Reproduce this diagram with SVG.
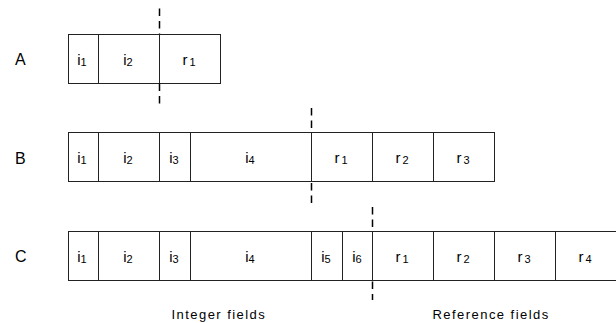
<svg xmlns="http://www.w3.org/2000/svg" width="616" height="323" viewBox="0 0 616 323">
<style>
.cell{fill:#fff;stroke:#222;stroke-width:1}
.t{font-family:"Liberation Sans",Arial,sans-serif;font-size:15px;fill:#000;text-anchor:middle}
.s{font-size:11px}
.lab{font-family:"Liberation Sans",Arial,sans-serif;font-size:16px;fill:#000}
.cap{font-family:"Liberation Sans",Arial,sans-serif;font-size:13px;fill:#000;letter-spacing:1.45px}
.sep{stroke:#000;stroke-width:1.5;stroke-dasharray:7.5 5;fill:none}
</style>
<rect width="616" height="323" fill="#fff"/>

<g id="rowA">
<text class="lab" x="15" y="64.5">A</text>
<g id="A-i1"><rect class="cell" x="68.5" y="34.5" width="30" height="49"/><text class="t" x="82" y="64.5">i<tspan class="s" dy="1">1</tspan></text></g>
<g id="A-i2"><rect class="cell" x="98.5" y="34.5" width="61" height="49"/><text class="t" x="128" y="64.5">i<tspan class="s" dy="1">2</tspan></text></g>
<g id="A-r1"><rect class="cell" x="159.5" y="34.5" width="61" height="49"/><text class="t" x="189" y="64.5">r<tspan class="s" dx="2" dy="1">1</tspan></text></g>
</g>

<g id="rowB">
<text class="lab" x="15" y="163.5">B</text>
<g id="B-i1"><rect class="cell" x="68.5" y="132.5" width="30" height="49"/><text class="t" x="82" y="163">i<tspan class="s" dy="1">1</tspan></text></g>
<g id="B-i2"><rect class="cell" x="98.5" y="132.5" width="61" height="49"/><text class="t" x="128" y="163">i<tspan class="s" dy="1">2</tspan></text></g>
<g id="B-i3"><rect class="cell" x="159.5" y="132.5" width="31" height="49"/><text class="t" x="174" y="163">i<tspan class="s" dy="1">3</tspan></text></g>
<g id="B-i4"><rect class="cell" x="190.5" y="132.5" width="121" height="49"/><text class="t" x="250" y="163">i<tspan class="s" dy="1">4</tspan></text></g>
<g id="B-r1"><rect class="cell" x="311.5" y="132.5" width="61" height="49"/><text class="t" x="341" y="163">r<tspan class="s" dx="2" dy="1">1</tspan></text></g>
<g id="B-r2"><rect class="cell" x="372.5" y="132.5" width="61" height="49"/><text class="t" x="402" y="163">r<tspan class="s" dx="2" dy="1">2</tspan></text></g>
<g id="B-r3"><rect class="cell" x="433.5" y="132.5" width="61" height="49"/><text class="t" x="463" y="163">r<tspan class="s" dx="2" dy="1">3</tspan></text></g>
</g>

<g id="rowC">
<text class="lab" x="15" y="261.5">C</text>
<g id="C-i1"><rect class="cell" x="68.5" y="231.5" width="30" height="49"/><text class="t" x="82" y="261.5">i<tspan class="s" dy="1">1</tspan></text></g>
<g id="C-i2"><rect class="cell" x="98.5" y="231.5" width="61" height="49"/><text class="t" x="128" y="261.5">i<tspan class="s" dy="1">2</tspan></text></g>
<g id="C-i3"><rect class="cell" x="159.5" y="231.5" width="31" height="49"/><text class="t" x="174" y="261.5">i<tspan class="s" dy="1">3</tspan></text></g>
<g id="C-i4"><rect class="cell" x="190.5" y="231.5" width="121" height="49"/><text class="t" x="250" y="261.5">i<tspan class="s" dy="1">4</tspan></text></g>
<g id="C-i5"><rect class="cell" x="311.5" y="231.5" width="31" height="49"/><text class="t" x="326" y="261.5">i<tspan class="s" dy="1">5</tspan></text></g>
<g id="C-i6"><rect class="cell" x="342.5" y="231.5" width="30" height="49"/><text class="t" x="357" y="261.5">i<tspan class="s" dy="1">6</tspan></text></g>
<g id="C-r1"><rect class="cell" x="372.5" y="231.5" width="61" height="49"/><text class="t" x="402" y="261.5">r<tspan class="s" dx="2" dy="1">1</tspan></text></g>
<g id="C-r2"><rect class="cell" x="433.5" y="231.5" width="61" height="49"/><text class="t" x="463" y="261.5">r<tspan class="s" dx="2" dy="1">2</tspan></text></g>
<g id="C-r3"><rect class="cell" x="494.5" y="231.5" width="61" height="49"/><text class="t" x="524" y="261.5">r<tspan class="s" dx="2" dy="1">3</tspan></text></g>
<g id="C-r4"><rect class="cell" x="555.5" y="231.5" width="70" height="49"/><text class="t" x="585" y="261.5">r<tspan class="s" dx="2" dy="1">4</tspan></text></g>
</g>

<g id="connectors">
<line class="sep" x1="159.5" y1="8.5" x2="159.5" y2="34"/>
<line class="sep" x1="159.5" y1="83.5" x2="159.5" y2="104"/>
<line class="sep" x1="311.5" y1="108" x2="311.5" y2="132"/>
<line class="sep" x1="311.5" y1="183" x2="311.5" y2="203"/>
<line class="sep" x1="372.5" y1="207" x2="372.5" y2="231"/>
<line class="sep" x1="372.5" y1="281.5" x2="372.5" y2="300"/>
</g>

<g id="captions">
<text class="cap" x="171.5" y="319">Integer fields</text>
<text class="cap" x="432.5" y="319">Reference fields</text>
</g>
</svg>
